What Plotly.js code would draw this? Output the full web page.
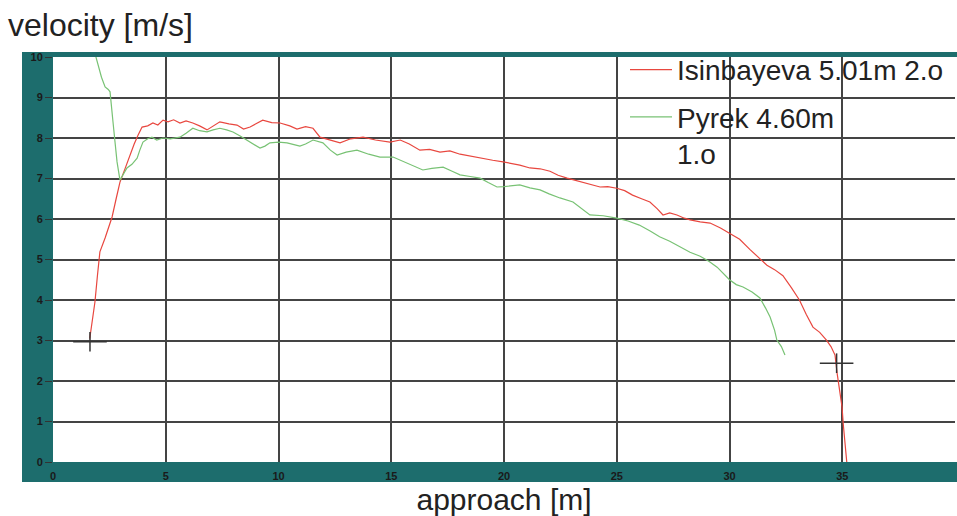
<!DOCTYPE html>
<html>
<head>
<meta charset="utf-8">
<script src="https://cdn.plot.ly/plotly-3.0.1.min.js"></script>
<style>html,body{margin:0;padding:0;background:#fff;}#chart{width:957px;height:516px;}</style>
</head>
<body>
<div id="chart"></div>
<script>
// Isinbayeva 5.01m 2.o (red)
const isinX = [1.63,1.75,1.86,1.97,2.08,2.31,2.5,2.62,2.8,2.97,3.2,3.41,3.6,3.77,3.95,4.2,4.43,4.65,4.88,5.1,5.35,5.63,5.9,6.2,6.5,6.83,7.1,7.4,7.8,8.16,8.45,8.74,9.0,9.3,9.7,10.07,10.5,10.82,11.2,11.53,11.84,12.3,12.73,13.2,13.75,14.3,14.94,15.4,15.8,16.27,16.7,17.16,17.6,18.05,18.5,18.94,19.5,19.96,20.3,20.7,21.15,21.6,22.04,22.4,22.8,23.5,24.26,24.6,25.0,25.35,25.7,26.1,26.47,26.8,27.05,27.35,27.67,28.0,28.25,28.7,29.14,29.6,30.0,30.45,30.9,31.3,31.66,32.0,32.37,32.75,33.1,33.4,33.7,34.0,34.3,34.5,34.68,34.77,34.88,34.99,35.05,35.12,35.2];
const isinY = [3.05,3.5,3.95,4.6,5.19,5.53,5.85,6.05,6.5,6.91,7.25,7.58,7.85,8.07,8.27,8.3,8.37,8.32,8.44,8.4,8.45,8.37,8.42,8.37,8.3,8.2,8.3,8.4,8.35,8.32,8.22,8.27,8.35,8.44,8.38,8.37,8.3,8.22,8.28,8.24,8.02,7.95,7.88,7.98,8.02,7.95,7.9,7.95,7.85,7.7,7.72,7.65,7.68,7.6,7.55,7.5,7.45,7.41,7.38,7.33,7.26,7.24,7.18,7.08,7.01,6.9,6.79,6.8,6.76,6.7,6.59,6.5,6.42,6.25,6.1,6.15,6.1,6.02,5.98,5.93,5.9,5.78,5.65,5.5,5.25,5.05,4.86,4.75,4.6,4.3,4.0,3.65,3.33,3.2,3.01,2.85,2.64,2.2,1.8,1.36,0.9,0.47,0.0];
// Pyrek 4.60m 1.o (green)
const pyrekX = [1.88,2.0,2.15,2.31,2.45,2.53,2.6,2.66,2.75,2.84,2.97,3.1,3.28,3.5,3.73,3.85,3.99,4.2,4.39,4.6,4.88,5.2,5.63,5.9,6.2,6.5,6.83,7.1,7.4,7.7,7.98,8.3,8.6,8.9,9.18,9.4,9.62,10.0,10.38,10.95,11.2,11.53,11.97,12.3,12.6,13.0,13.48,14.0,14.5,15.08,15.4,15.7,16.0,16.4,16.8,17.3,17.7,18.05,18.5,18.94,19.3,19.69,20.0,20.4,20.7,21.15,21.6,22.0,22.48,23.06,23.4,23.81,24.4,25.0,25.5,26.0,26.5,26.9,27.35,27.8,28.25,28.7,29.1,29.45,29.75,30.0,30.3,30.6,31.0,31.35,31.6,31.8,32.0,32.1,32.3,32.46];
const pyrekY = [10.05,9.8,9.5,9.26,9.2,9.14,8.8,8.4,7.9,7.41,6.96,7.1,7.26,7.35,7.5,7.7,7.9,7.98,8.02,7.95,8.0,7.98,8.02,8.12,8.24,8.18,8.15,8.2,8.24,8.2,8.15,8.05,7.95,7.85,7.75,7.8,7.88,7.9,7.88,7.8,7.85,7.95,7.88,7.7,7.58,7.65,7.7,7.6,7.53,7.53,7.45,7.38,7.3,7.21,7.25,7.28,7.18,7.09,7.05,7.01,6.9,6.79,6.8,6.82,6.84,6.77,6.72,6.62,6.52,6.42,6.28,6.1,6.08,6.02,5.95,5.85,5.7,5.56,5.45,5.31,5.18,5.08,4.95,4.81,4.65,4.5,4.38,4.32,4.2,4.05,3.8,3.58,3.25,3.01,2.85,2.64];
// crosshair markers
const crossX = [1.64, 34.75];
const crossY = [2.97, 2.44];
// axis ticks
const xTicks = [0,5,10,15,20,25,30,35,40];
const yTicks = [0,1,2,3,4,5,6,7,8,9,10];

const teal = '#1d6d6d';
const FONT = '"Liberation Sans", Arial, sans-serif';

const traces = [
  {x: isinX, y: isinY, type:'scatter', mode:'lines', name:'Isinbayeva 5.01m 2.o',
   legendgroup:'a', line:{color:'#e8473f', width:1.2}},
  {x: pyrekX, y: pyrekY, type:'scatter', mode:'lines', name:'Pyrek 4.60m<br>1.o',
   legendgroup:'b', line:{color:'#78c274', width:1.2}},
  {x: crossX, y: crossY, type:'scatter', mode:'markers', showlegend:false, hoverinfo:'skip',
   marker:{symbol:'line-ew', size:24, line:{color:'#333', width:1.5}}},
  {x: crossX, y: crossY, type:'scatter', mode:'markers', showlegend:false, hoverinfo:'skip',
   marker:{symbol:'line-ns', size:14, line:{color:'#333', width:1.5}}}
];

const layout = {
  width:957, height:516,
  margin:{l:53, r:2, t:57, b:54, pad:0},
  paper_bgcolor:'#fff', plot_bgcolor:'#fff',
  font:{family:FONT, color:'#222'},
  title:{text:'velocity [m/s]', font:{family:FONT, size:32, color:'#222'},
         xref:'container', yref:'container', x:8/957, xanchor:'left', y:1-25/516, yanchor:'middle'},
  showlegend:true,
  legend:{x:(625-53)/902, xanchor:'left', y:1.03, yanchor:'top', bgcolor:'rgba(0,0,0,0)',
          font:{family:FONT, size:28, color:'#222'}, tracegroupgap:8, valign:'top', itemwidth:42},
  xaxis:{range:[0,40], tickmode:'array', tickvals:xTicks, ticktext:xTicks.map(String),
         showgrid:true, gridcolor:'#444', gridwidth:2, zeroline:false, showline:false,
         ticks:'outside', ticklen:4, tickcolor:'rgba(0,0,0,0)',
         tickfont:{family:FONT, size:11, color:'#1a1a1a', weight:'bold'},
         title:{text:'approach [m]', font:{family:FONT, size:30, color:'#222'}, standoff:13},
         fixedrange:true},
  yaxis:{range:[0,10], tickmode:'array', tickvals:yTicks, ticktext:yTicks.map(String),
         showgrid:true, gridcolor:'#444', gridwidth:2, zeroline:false, showline:false,
         ticks:'outside', ticklen:7, tickcolor:'#333', tickwidth:1,
         tickfont:{family:FONT, size:11, color:'#1a1a1a', weight:'bold'},
         fixedrange:true},
  shapes:[
    {type:'rect', xref:'paper', yref:'paper', x0:-31/902, x1:0, y0:-20/405, y1:410/405,
     fillcolor:teal, line:{width:0}, layer:'below'},
    {type:'rect', xref:'paper', yref:'paper', x0:-31/902, x1:904/902, y0:-20/405, y1:0,
     fillcolor:teal, line:{width:0}, layer:'below'},
    {type:'rect', xref:'paper', yref:'paper', x0:-31/902, x1:904/902, y0:1, y1:410/405,
     fillcolor:teal, line:{width:0}, layer:'below'}
  ]
};

Plotly.newPlot('chart', traces, layout, {staticPlot:true, displayModeBar:false});
</script>
</body>
</html>
